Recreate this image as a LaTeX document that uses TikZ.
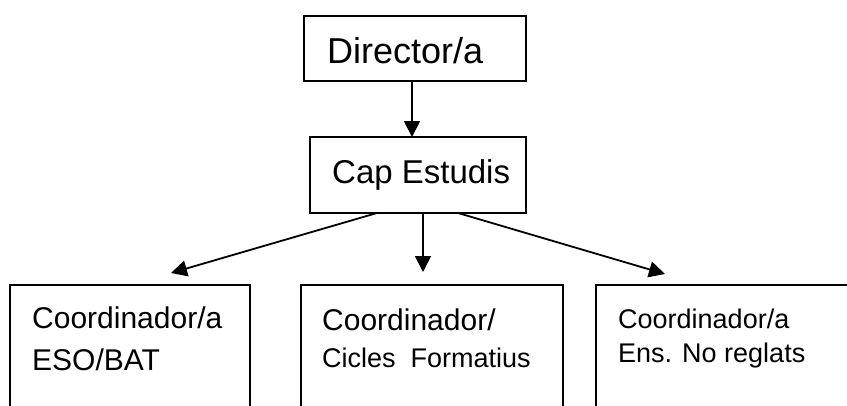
\documentclass[tikz,border=0pt]{standalone}
\usepackage{fontspec}
\setmainfont{Liberation Sans}
\usetikzlibrary{arrows.meta}
\begin{document}
\begin{tikzpicture}[x=1pt,y=-1pt,
  box/.style={draw,line width=1.7pt,inner sep=0pt,outer sep=0pt,anchor=north west},
  arr/.style={line width=1.8pt,-{Triangle[length=16pt,width=16pt]}},
  lbl/.style={anchor=base west,inner sep=0pt}]
\useasboundingbox (0,0) rectangle (847,405);
\clip (0,0) rectangle (847,405);
% boxes
\node[box,minimum width=222pt,minimum height=65pt] (dir) at (304,16) {};
\node[box,minimum width=216pt,minimum height=76pt] (cap) at (310,137) {};
\node[box,minimum width=240pt,minimum height=180pt] (eso) at (10,285) {};
\node[box,minimum width=262pt,minimum height=180pt] (cf) at (301,285) {};
\node[box,minimum width=280pt,minimum height=180pt] (nr) at (596,285) {};
% texts
\node[lbl,font=\fontsize{36}{40}\selectfont] (tdir) at (327,63) {Director/a};
\node[lbl,font=\fontsize{33}{38}\selectfont] (tcap) at (332,183) {Cap Estudis};
\node[lbl,font=\fontsize{30}{34}\selectfont] (teso1) at (32,328) {Coordinador/a};
\node[lbl,font=\fontsize{30}{34}\selectfont] (teso2) at (32,370) {ESO/BAT};
\node[lbl,font=\fontsize{30}{34}\selectfont] (tcf1) at (322,330) {Coordinador/};
\node[lbl,font=\fontsize{27}{32}\selectfont] (tcf2) at (322,367) {Cicles\hspace{0.55em}Formatius};
\node[lbl,font=\fontsize{27}{31}\selectfont] (tnr1) at (618,328) {Coordinador/a};
\node[lbl,font=\fontsize{27}{31}\selectfont] (tnr2) at (618,362) {Ens. No reglats};
% arrow ends
\coordinate (d0) at ([xshift=-3pt]dir.south);
\coordinate (c0) at (d0 |- cap.north);
\coordinate (s1) at ([xshift=-41pt]cap.south);
\coordinate (s2) at ([xshift=5pt]cap.south);
\coordinate (s3) at ([xshift=40pt]cap.south);
\coordinate (t1) at (171,273);
\coordinate (t2) at (s2 |- 0,272);
\coordinate (t3) at (665,274);
\draw[arr] (d0) -- (c0);
\draw[arr] (s1) -- (t1);
\draw[arr] (s2) -- (t2);
\draw[arr] (s3) -- (t3);
\end{tikzpicture}
\end{document}
